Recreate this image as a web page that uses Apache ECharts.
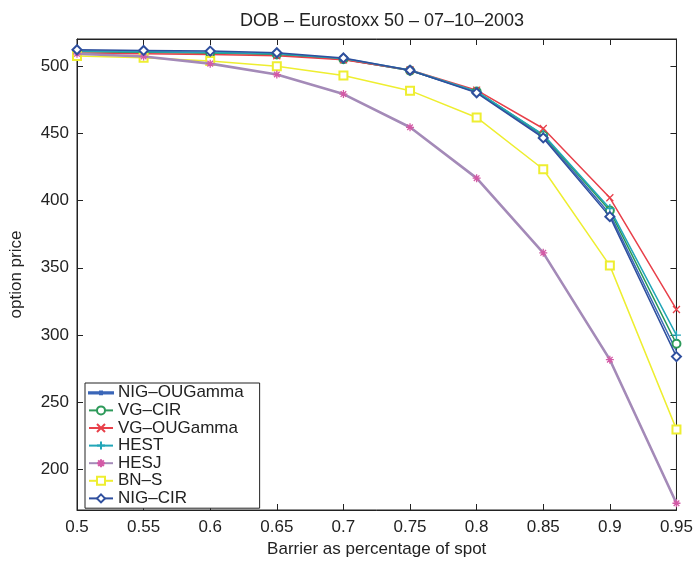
<!DOCTYPE html>
<html><head><meta charset="utf-8">
<script src="https://cdn.jsdelivr.net/npm/echarts@6/dist/echarts.min.js"></script>
<style>html,body{margin:0;padding:0;background:#fff}#c{width:696px;height:563px}</style>
</head><body><div id="c"></div>
<script>
const barriers = [0.5, 0.55, 0.6, 0.65, 0.7, 0.75, 0.8, 0.85, 0.9, 0.95];
const nigOUGamma = [511, 510.5, 510, 508.8, 505, 496.5, 480.5, 447.5, 390, 288];
const vgCIR      = [510.5, 510, 509.5, 508.5, 505, 496.5, 481, 448.5, 392.5, 293.5];
const vgOUGamma  = [509.5, 509, 508.5, 507.5, 504.5, 497, 482, 453.5, 402, 319];
const hest       = [511, 510.5, 510, 509, 505.5, 497, 481, 449, 394, 300];
const hesj       = [509, 507, 501.7, 493.6, 479.1, 454.4, 416.6, 361.1, 281.7, 175];
const bns        = [507.4, 506, 503.7, 499.7, 492.9, 481.6, 461.7, 423.2, 351.6, 229.9];
const nigCIR     = [512, 511.5, 511, 509.8, 505.9, 496.8, 480, 446.5, 388, 284];
const yTicks = [200, 250, 300, 350, 400, 450, 500];

const FONT = '"Liberation Sans", Arial, Helvetica, sans-serif';
const xMark = 'path://M0,0L10,10M10,0L0,10';
const plusMark = 'path://M5,0L5,10M0,5L10,5';
const starMark = 'path://M5,0L5,10M0,5L10,5M1.5,1.5L8.5,8.5M8.5,1.5L1.5,8.5';

function pts(v){ return barriers.map((b,i)=>[b, v[i]]); }
function ser(name, data, color, symbol, size, opts){
  opts = opts || {};
  return {
    name, type:'line', data: pts(data), symbol, symbolSize: size,
    showAllSymbol: true,
    lineStyle:{color: opts.lineColor || color, width: opts.width || 1.5},
    itemStyle:{color: (symbol.startsWith('path') ? 'none' : color), borderColor: color, borderWidth: 1.3},
    emphasis:{disabled:true}, animation:false, z: opts.z || 2
  };
}

const chart = echarts.init(document.getElementById('c'));
chart.setOption({
  animation:false,
  backgroundColor:'#fff',
  title:{text:'DOB \u2013 Eurostoxx 50 \u2013 07\u201310\u20132003', left:377, top:7, textAlign:'center',
    textStyle:{fontFamily:FONT, fontSize:18, fontWeight:'normal', color:'#222'}},
  grid:{left:76, right:18, top:39, bottom:47, show:true, borderColor:'#222', borderWidth:1},
  legend:{orient:'vertical', left:85, top:383, itemWidth:24, itemHeight:10, itemGap:0,
    padding:[1,16,1,3], borderColor:'#222', borderWidth:1, backgroundColor:'#fff',
    textStyle:{fontFamily:FONT, fontSize:17, color:'#222', lineHeight:17.6},
    data:[{name:'NIG\u2013OUGamma', icon:'path://M0,4.4L24,4.4L24,5.6L0,5.6ZM11,3.6L13,3.6L13,6.4L11,6.4Z'},
      'VG\u2013CIR','VG\u2013OUGamma','HEST','HESJ','BN\u2013S','NIG\u2013CIR']},
  xAxis:[{type:'value', min:0.5, max:0.95, interval:0.05,
    name:'Barrier as percentage of spot', nameLocation:'middle', nameGap:31,
    nameTextStyle:{fontFamily:FONT, fontSize:17, color:'#222'},
    axisLine:{lineStyle:{color:'#222'}}, axisTick:{inside:true, length:6, lineStyle:{color:'#222'}},
    axisLabel:{fontFamily:FONT, fontSize:17, color:'#222', margin:9, formatter:v=>String(+v.toFixed(2))},
    splitLine:{show:false}},
   {type:'value', position:'top', min:0.5, max:0.95, interval:0.05,
    axisLine:{show:true, lineStyle:{color:'#222'}}, axisTick:{inside:true, length:6, lineStyle:{color:'#222'}},
    axisLabel:{show:false}, splitLine:{show:false}}],
  yAxis:[{type:'value', min:170, max:520,
    name:'option price', nameLocation:'middle', nameGap:52,
    nameTextStyle:{fontFamily:FONT, fontSize:17, color:'#222'},
    axisLine:{show:true, lineStyle:{color:'#222'}},
    axisTick:{show:true, inside:true, length:6, customValues:yTicks, lineStyle:{color:'#222'}},
    axisLabel:{fontFamily:FONT, fontSize:17, color:'#222', margin:8, customValues:yTicks},
    splitLine:{show:false}},
   {type:'value', position:'right', min:170, max:520,
    axisLine:{show:true, lineStyle:{color:'#222'}},
    axisTick:{show:true, inside:true, length:6, customValues:yTicks, lineStyle:{color:'#222'}},
    axisLabel:{show:false, customValues:yTicks}, splitLine:{show:false}}],
  series:[
    ser('NIG\u2013OUGamma', nigOUGamma, '#3a66b8', 'none', 0),
    ser('VG\u2013CIR', vgCIR, '#2e9a5a', 'emptyCircle', 8),
    ser('VG\u2013OUGamma', vgOUGamma, '#e8404a', xMark, 7),
    ser('HEST', hest, '#22a6b8', plusMark, 9),
    ser('HESJ', hesj, '#d35aa6', starMark, 8, {lineColor:'#a48ab8', width:2.6, z:3}),
    ser('BN\u2013S', bns, '#eeee30', 'emptyRect', 8),
    ser('NIG\u2013CIR', nigCIR, '#2f4f9e', 'emptyDiamond', 9, {z:4})
  ]
});
</script></body></html>
